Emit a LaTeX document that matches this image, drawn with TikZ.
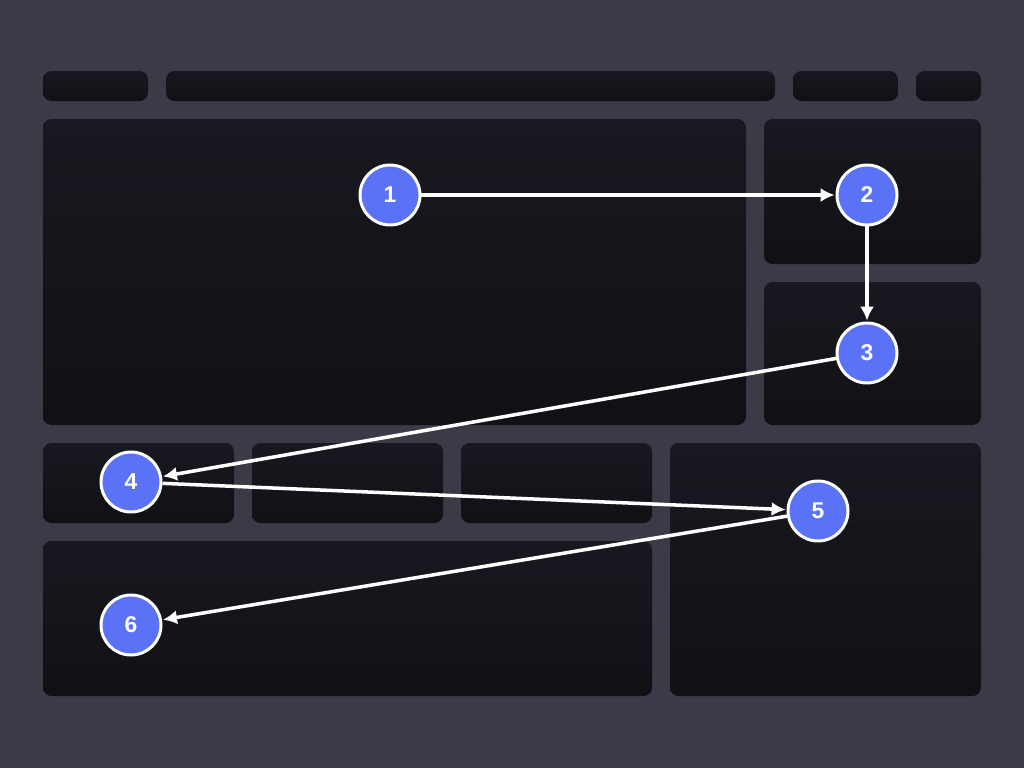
\documentclass[tikz,border=0pt]{standalone}
\usepackage{fontspec}
\setmainfont{Liberation Sans}
\usepackage{tikz}
\usetikzlibrary{arrows.meta}
\definecolor{canvas}{HTML}{3B3B48}
\definecolor{paneltop}{HTML}{181820}
\definecolor{panelbot}{HTML}{101015}
\definecolor{dot}{HTML}{5A72F6}

\begin{document}
\begin{tikzpicture}[x=0.02cm, y=-0.02cm,
  panel/.style={top color=paneltop, bottom color=panelbot, rounded corners=0.17cm},
  num/.style={circle, draw=white, line width=1.7pt, fill=dot, minimum size=1.2cm, inner sep=0pt,
    text=white, font=\fontsize{13}{15}\selectfont\bfseries},
  flow/.style={draw=white, line width=2pt, -{Latex[length=8pt,width=8pt]}, shorten >=0.5pt}]
\fill[canvas] (0,0) rectangle (1024,768);
% top bar
\shade[panel] (43,71) rectangle (148,101);
\shade[panel] (166,71) rectangle (775,101);
\shade[panel] (793,71) rectangle (898,101);
\shade[panel] (916,71) rectangle (981,101);
% main area and side boxes
\shade[panel] (43,119) rectangle (746,425);
\shade[panel] (764,119) rectangle (981,264);
\shade[panel] (764,282) rectangle (981,425);
% lower row
\shade[panel] (43,443) rectangle (234,523);
\shade[panel] (252,443) rectangle (443,523);
\shade[panel] (461,443) rectangle (652,523);
\shade[panel] (670,443) rectangle (981,696);
\shade[panel] (43,541) rectangle (652,696);
% reading order
\node[num] (s1) at (390,195) {1};
\node[num] (s2) at (867,195) {2};
\node[num] (s3) at (867,353) {3};
\node[num] (s4) at (131,482) {4};
\node[num] (s5) at (818,511) {5};
\node[num] (s6) at (131,625) {6};
\draw[flow] (s1) -- (s2);
\draw[flow] (s2) -- (s3);
\draw[flow] (s3) -- (s4);
\draw[flow] (s4) -- (s5);
\draw[flow] (s5) -- (s6);
\end{tikzpicture}
\end{document}
